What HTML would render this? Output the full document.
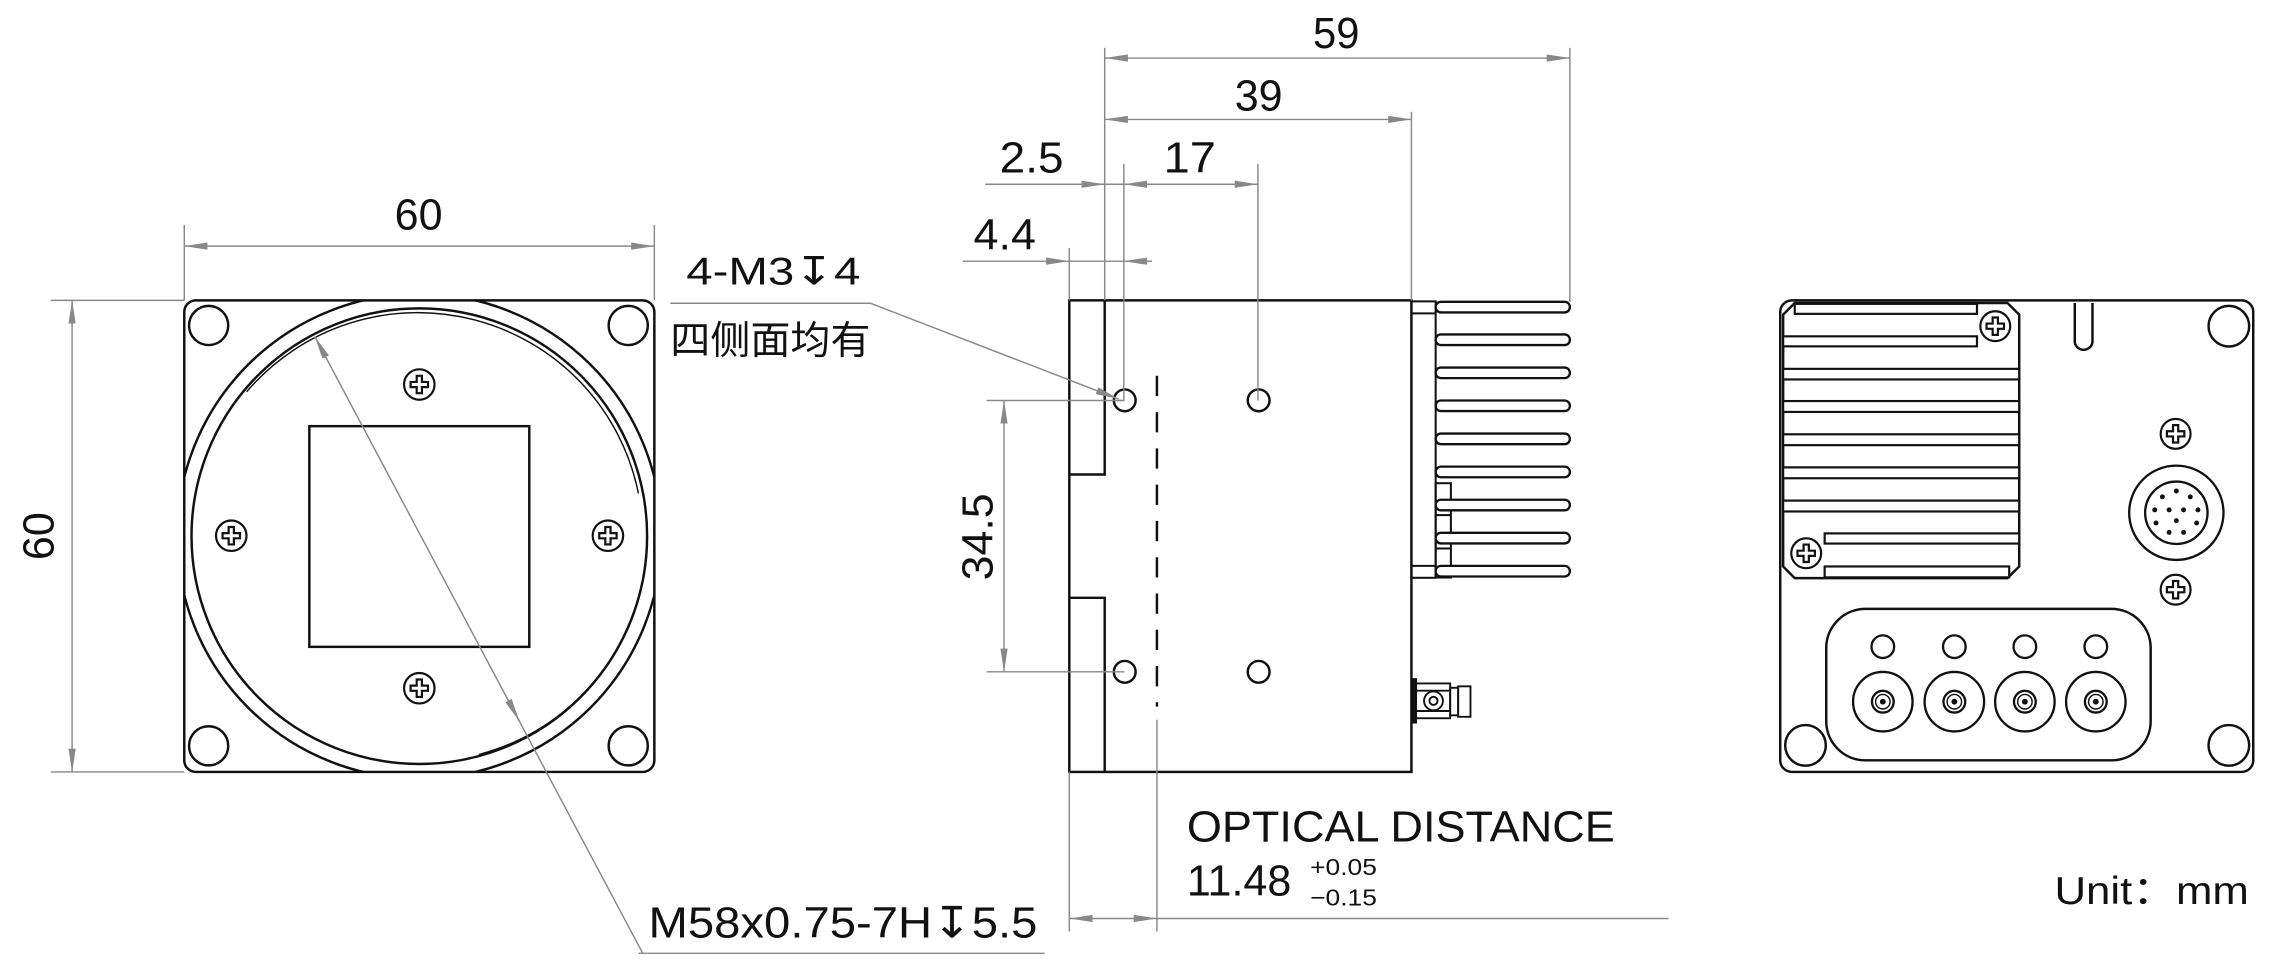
<!DOCTYPE html>
<html><head><meta charset="utf-8"><style>
html,body{margin:0;padding:0;background:#fff;}
svg{display:block;}
text{font-family:"Liberation Sans","Noto Sans CJK SC","DejaVu Sans",sans-serif;fill:#111;}
</style></head><body>
<svg width="2275" height="970" viewBox="0 0 1568 668.5" preserveAspectRatio="none" xmlns="http://www.w3.org/2000/svg">
<defs>
<marker id="a" viewBox="0 0 16 5" refX="16" refY="2.5" markerWidth="16" markerHeight="5" orient="auto-start-reverse" markerUnits="userSpaceOnUse"><path d="M0,0 L16,2.5 L0,5 z" fill="#888"/></marker>
<clipPath id="sq"><rect x="127" y="207" width="324" height="325"/></clipPath>
</defs>

<!-- ===== FRONT VIEW ===== -->
<g fill="none" stroke="#111" stroke-width="1.7">
<rect x="127" y="207" width="324" height="325" rx="8"/>
<circle cx="289" cy="369.5" r="167" clip-path="url(#sq)"/>
<circle cx="289" cy="369.5" r="157"/>
<path d="M 170 270 A 155 155 0 0 1 440 340" stroke-width="1"/>
<path d="M 443 400 A 155 155 0 0 1 330 520" stroke-width="1"/>
<circle cx="143.8" cy="224.3" r="13.5"/><circle cx="433" cy="224.3" r="13.5"/>
<circle cx="143.8" cy="514" r="13.5"/><circle cx="433" cy="514" r="13.5"/>
<rect x="213.2" y="293.7" width="151.6" height="152.1"/>
</g>
<g fill="none" stroke="#111" stroke-width="1.5">
<g transform="translate(289,265)"><circle r="10.5"/><path d="M-1.8,-6 h3.6 v4.2 h4.2 v3.6 h-4.2 v4.2 h-3.6 v-4.2 h-4.2 v-3.6 h4.2z"/></g>
<g transform="translate(289,474.3)"><circle r="10.5"/><path d="M-1.8,-6 h3.6 v4.2 h4.2 v3.6 h-4.2 v4.2 h-3.6 v-4.2 h-4.2 v-3.6 h4.2z"/></g>
<g transform="translate(159.4,369.2)"><circle r="10.5"/><path d="M-1.8,-6 h3.6 v4.2 h4.2 v3.6 h-4.2 v4.2 h-3.6 v-4.2 h-4.2 v-3.6 h4.2z"/></g>
<g transform="translate(419,369.2)"><circle r="10.5"/><path d="M-1.8,-6 h3.6 v4.2 h4.2 v3.6 h-4.2 v4.2 h-3.6 v-4.2 h-4.2 v-3.6 h4.2z"/></g>
</g>
<g stroke="#888" stroke-width="1" fill="none">
<line x1="127" y1="155" x2="127" y2="207"/><line x1="451" y1="155" x2="451" y2="207"/>
<line x1="127" y1="169.6" x2="451" y2="169.6" marker-start="url(#a)" marker-end="url(#a)"/>
<line x1="35" y1="207" x2="127" y2="207"/><line x1="35" y1="532" x2="127" y2="532"/>
<line x1="49.7" y1="207" x2="49.7" y2="532" marker-start="url(#a)" marker-end="url(#a)"/>
<line x1="443" y1="657" x2="217" y2="232" marker-end="url(#a)"/>
<line x1="350" y1="482" x2="358" y2="497" marker-end="url(#a)"/>
<line x1="440" y1="657" x2="720" y2="657"/>
</g>
<text x="272" y="158" font-size="30" textLength="33" lengthAdjust="spacingAndGlyphs">60</text>
<text transform="translate(37,386) rotate(-90)" font-size="30" textLength="33" lengthAdjust="spacingAndGlyphs">60</text>
<text x="447" y="646" font-size="30" textLength="268" lengthAdjust="spacingAndGlyphs">M58x0.75-7H↧5.5</text>

<!-- ===== SIDE VIEW ===== -->
<g fill="none" stroke="#111" stroke-width="1.7">
<rect x="737" y="207" width="235.8" height="325"/>
<polyline points="737,327 761.4,327 761.4,207"/>
<polyline points="737,412 761.4,412 761.4,532"/>
<circle cx="775.2" cy="275.9" r="7.5"/><circle cx="867.5" cy="275.9" r="7.5"/>
<circle cx="775.2" cy="463" r="7.5"/><circle cx="867.5" cy="463" r="7.5"/>
<line x1="797.4" y1="259" x2="797.4" y2="487" stroke-dasharray="14,11"/>
<rect x="972.8" y="207.7" width="16.7" height="190.5" stroke-width="1.4"/>
<line x1="972.8" y1="216" x2="989.5" y2="216" stroke-width="1.4"/>
<line x1="972.8" y1="390" x2="989.5" y2="390" stroke-width="1.4"/>
<rect x="989.5" y="333" width="10.5" height="65" stroke-width="1.4"/>
<line x1="989.5" y1="355" x2="1000" y2="355" stroke-width="1.4"/>
<line x1="989.5" y1="378" x2="1000" y2="378" stroke-width="1.4"/>
</g>
<g fill="#fff" stroke="#111" stroke-width="1.6">
<rect x="989.5" y="208" width="92.5" height="7.3" rx="3.6"/>
<rect x="989.5" y="230.5" width="92.5" height="7.3" rx="3.6"/>
<rect x="989.5" y="253.3" width="92.5" height="7.3" rx="3.6"/>
<rect x="989.5" y="276" width="92.5" height="7.3" rx="3.6"/>
<rect x="989.5" y="298.8" width="92.5" height="7.3" rx="3.6"/>
<rect x="989.5" y="321.6" width="92.5" height="7.3" rx="3.6"/>
<rect x="989.5" y="344.4" width="92.5" height="7.3" rx="3.6"/>
<rect x="989.5" y="367.2" width="92.5" height="7.3" rx="3.6"/>
<rect x="989.5" y="390" width="92.5" height="7.3" rx="3.6"/>
</g>
<g fill="none" stroke="#111" stroke-width="1.3">
<rect x="973" y="468" width="3" height="30" fill="#111"/>
<rect x="976" y="471" width="23.5" height="24"/>
<rect x="999.5" y="474" width="5.5" height="19"/>
<rect x="1005" y="473" width="8.5" height="21"/>
<line x1="976" y1="476" x2="999.5" y2="476"/><line x1="976" y1="490" x2="999.5" y2="490"/>
<circle cx="988" cy="483" r="6.5"/><circle cx="988" cy="483" r="2.8"/>
</g>
<g stroke="#888" stroke-width="1" fill="none">
<line x1="761.4" y1="33" x2="761.4" y2="207"/>
<line x1="1082" y1="33" x2="1082" y2="208"/>
<line x1="972.8" y1="77" x2="972.8" y2="207"/>
<line x1="761.4" y1="40" x2="1082" y2="40" marker-start="url(#a)" marker-end="url(#a)"/>
<line x1="761.4" y1="82.3" x2="972.8" y2="82.3" marker-start="url(#a)" marker-end="url(#a)"/>
<line x1="774.6" y1="113" x2="774.6" y2="276"/>
<line x1="867" y1="113" x2="867" y2="276"/>
<line x1="679" y1="127" x2="761.4" y2="127" marker-end="url(#a)"/>
<line x1="761.4" y1="127" x2="774.6" y2="127"/>
<line x1="774.6" y1="127" x2="867" y2="127" marker-start="url(#a)" marker-end="url(#a)"/>
<line x1="737" y1="171" x2="737" y2="207"/>
<line x1="663.6" y1="180" x2="737" y2="180" marker-end="url(#a)"/>
<line x1="737" y1="180" x2="794" y2="180"/>
<line x1="794" y1="180" x2="774.6" y2="180" marker-end="url(#a)"/>
<line x1="680" y1="276" x2="775" y2="276"/>
<line x1="680" y1="463" x2="775" y2="463"/>
<line x1="692" y1="276" x2="692" y2="463" marker-start="url(#a)" marker-end="url(#a)"/>
<line x1="462" y1="209" x2="600" y2="209"/>
<line x1="600" y1="209" x2="771" y2="275" marker-end="url(#a)"/>
<line x1="737" y1="532" x2="737" y2="642"/>
<line x1="797.4" y1="496" x2="797.4" y2="642"/>
<line x1="737" y1="633" x2="797.4" y2="633" marker-start="url(#a)" marker-end="url(#a)"/>
<line x1="797.4" y1="633" x2="1150" y2="633"/>
</g>
<text x="905" y="33" font-size="30" textLength="32" lengthAdjust="spacingAndGlyphs">59</text>
<text x="851" y="76" font-size="30" textLength="33" lengthAdjust="spacingAndGlyphs">39</text>
<text x="689" y="119" font-size="30" textLength="44" lengthAdjust="spacingAndGlyphs">2.5</text>
<text x="802" y="119" font-size="30" textLength="36" lengthAdjust="spacingAndGlyphs">17</text>
<text x="671" y="172" font-size="30" textLength="43" lengthAdjust="spacingAndGlyphs">4.4</text>
<text transform="translate(684,400) rotate(-90)" font-size="30" textLength="60" lengthAdjust="spacingAndGlyphs">34.5</text>
<text x="473" y="196" font-size="27" textLength="120" lengthAdjust="spacingAndGlyphs">4-M3↧4</text>
<text x="462" y="244" font-size="27" textLength="138" lengthAdjust="spacingAndGlyphs">四侧面均有</text>
<text x="818" y="580" font-size="30" textLength="295" lengthAdjust="spacingAndGlyphs">OPTICAL DISTANCE</text>
<text x="818" y="617" font-size="30" textLength="72" lengthAdjust="spacingAndGlyphs">11.48</text>
<text x="903" y="603" font-size="16" textLength="46" lengthAdjust="spacingAndGlyphs">+0.05</text>
<text x="903" y="624" font-size="16" textLength="46" lengthAdjust="spacingAndGlyphs">−0.15</text>
<text x="1416" y="623" font-size="27" textLength="134" lengthAdjust="spacingAndGlyphs">Unit：mm</text>

<!-- ===== REAR VIEW ===== -->
<g fill="none" stroke="#111" stroke-width="1.7">
<rect x="1227" y="207" width="326" height="325" rx="8"/>
<circle cx="1536.2" cy="224.8" r="14"/>
<circle cx="1244.4" cy="513.7" r="14"/>
<circle cx="1536.2" cy="513.7" r="14"/>
<path d="M1237,208.8 L1383.6,208.8 L1391.7,216.8 L1391.7,390.4 L1383.6,398.4 L1237,398.4 L1229,390.4 L1229,216.8 Z"/>
<path d="M1430,208.8 L1430,236 A6.2,6.2 0 0 0 1442.2,236 L1442.2,208.8"/>
<rect x="1258.7" y="419.6" width="223.6" height="104.4" rx="27"/>
</g>
<g fill="#fff" stroke="#111" stroke-width="1.5">
<rect x="1237" y="209.4" width="125.6" height="6.9"/>
<rect x="1229" y="231.8" width="133.6" height="6.9"/>
<rect x="1229" y="254.2" width="162.7" height="7.3"/>
<rect x="1229" y="276.4" width="162.7" height="7.5"/>
<rect x="1229" y="299.3" width="162.7" height="7.5"/>
<rect x="1229" y="322.1" width="162.7" height="7.5"/>
<rect x="1229" y="345" width="162.7" height="7.5"/>
<rect x="1257.6" y="367.6" width="134.1" height="7"/>
<rect x="1257.6" y="390.4" width="127.2" height="7.5"/>
</g>
<g fill="#fff" stroke="#111" stroke-width="1.5">
<g transform="translate(1375.2,224.8)"><circle r="10.3"/><path d="M-1.8,-6 h3.6 v4.2 h4.2 v3.6 h-4.2 v4.2 h-3.6 v-4.2 h-4.2 v-3.6 h4.2z"/></g>
<g transform="translate(1244.9,381.3)"><circle r="10.3"/><path d="M-1.8,-6 h3.6 v4.2 h4.2 v3.6 h-4.2 v4.2 h-3.6 v-4.2 h-4.2 v-3.6 h4.2z"/></g>
<g transform="translate(1499.5,299)"><circle r="10.3"/><path d="M-1.8,-6 h3.6 v4.2 h4.2 v3.6 h-4.2 v4.2 h-3.6 v-4.2 h-4.2 v-3.6 h4.2z"/></g>
<g transform="translate(1499.5,406.4)"><circle r="10.3"/><path d="M-1.8,-6 h3.6 v4.2 h4.2 v3.6 h-4.2 v4.2 h-3.6 v-4.2 h-4.2 v-3.6 h4.2z"/></g>
</g>
<g fill="none" stroke="#111" stroke-width="1.6">
<circle cx="1500" cy="353.4" r="32.5"/>
<circle cx="1500" cy="353.4" r="21.5"/>
<circle cx="1297.7" cy="445.7" r="7.8"/><circle cx="1347" cy="445.7" r="7.8"/>
<circle cx="1395.6" cy="445.7" r="7.8"/><circle cx="1444.5" cy="445.7" r="7.8"/>
<circle cx="1297.7" cy="483.6" r="20.5"/><circle cx="1347" cy="483.6" r="20.5"/>
<circle cx="1395.6" cy="483.6" r="20.5"/><circle cx="1444.5" cy="483.6" r="20.5"/>
<circle cx="1297.7" cy="483.6" r="7.5"/><circle cx="1347" cy="483.6" r="7.5"/>
<circle cx="1395.6" cy="483.6" r="7.5"/><circle cx="1444.5" cy="483.6" r="7.5"/>
<circle cx="1297.7" cy="483.6" r="5" stroke-width="1"/><circle cx="1347" cy="483.6" r="5" stroke-width="1"/>
<circle cx="1395.6" cy="483.6" r="5" stroke-width="1"/><circle cx="1444.5" cy="483.6" r="5" stroke-width="1"/>
</g>
<g fill="#111">
<circle cx="1297.7" cy="483.6" r="2"/><circle cx="1347" cy="483.6" r="2"/>
<circle cx="1395.6" cy="483.6" r="2"/><circle cx="1444.5" cy="483.6" r="2"/>
<g transform="translate(1500,353.4)">
<circle cx="-9.6" cy="-11" r="1.7"/><circle cx="0" cy="-15" r="1.7"/><circle cx="9.6" cy="-11" r="1.7"/>
<circle cx="-14.9" cy="-2" r="1.7"/><circle cx="-5" cy="-2" r="1.7"/><circle cx="5" cy="-2" r="1.7"/><circle cx="14.9" cy="-2" r="1.7"/>
<circle cx="-14" cy="7" r="1.7"/><circle cx="0" cy="5.5" r="1.7"/><circle cx="14" cy="7" r="1.7"/>
<circle cx="-5" cy="13.5" r="1.7"/><circle cx="5" cy="13.5" r="1.7"/>
</g>
</g>
</svg>
</body></html>
